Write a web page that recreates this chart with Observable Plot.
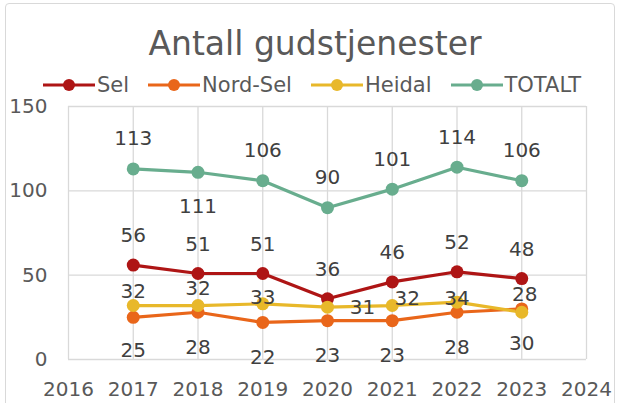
<!DOCTYPE html>
<html>
<head>
<meta charset="utf-8">
<script src="https://cdn.jsdelivr.net/npm/d3@7"></script>
<script src="https://cdn.jsdelivr.net/npm/@observablehq/plot@0.6"></script>
<style>
  html, body { margin: 0; padding: 0; background: #fff; }
  body { width: 619px; height: 403px; position: relative; overflow: hidden; font-family: "DejaVu Sans", sans-serif; color: #595959; }
  #frame { position: absolute; left: 5px; top: 3px; width: 610px; height: 420px; border: 1px solid #d9d9d9; border-radius: 4px; box-sizing: border-box; }
  #title { position: absolute; left: 0; width: 630px; top: 24px; text-align: center; font-size: 33px; line-height: 40px; color: #595959; }
  #legend { position: absolute; left: 43px; top: 73px; display: flex; align-items: center; font-size: 21px; line-height: 24px; color: #595959; }
  .item { display: flex; align-items: center; margin-right: 19px; }
  .item svg { margin-right: 2px; }
  #chart { position: absolute; left: 0; top: 95px; }
</style>
</head>
<body>
<div id="frame"></div>
<div id="title">Antall gudstjenester</div>
<div id="legend"></div>
<div id="chart"></div>
<script>
const years = [2017, 2018, 2019, 2020, 2021, 2022, 2023];
const seriesNames = ["Sel", "Nord-Sel", "Heidal", "TOTALT"];
const sel = [56, 51, 51, 36, 46, 52, 48];
const nordSel = [25, 28, 22, 23, 23, 28, 30];
const heidal = [32, 32, 33, 31, 32, 34, 28];
const totalt = [113, 111, 106, 90, 101, 114, 106];
const xTicks = [2016, 2017, 2018, 2019, 2020, 2021, 2022, 2023, 2024];
const yTicks = [0, 50, 100, 150];

const colors = {"Sel": "#ae1515", "Nord-Sel": "#e9661a", "Heidal": "#e8b82a", "TOTALT": "#68ad8e"};
const valuesBy = {"Sel": sel, "Nord-Sel": nordSel, "Heidal": heidal, "TOTALT": totalt};

// label nudges (pixels), per series with exceptions
function nudge(series, year) {
  if (series === "Sel") return [0, -29];
  if (series === "Nord-Sel") return [0, year === 2017 ? 33 : 35];
  if (series === "TOTALT") return year === 2018 ? [0, 34] : [0, -30];
  const h = {2017: [0, -14], 2018: [0, -17], 2019: [0, -6], 2020: [35, 0], 2021: [15, -7], 2022: [0, -4], 2023: [3, -18]};
  return h[year];
}

const rows = [];
for (const s of seriesNames) {
  valuesBy[s].forEach((v, i) => rows.push({series: s, year: years[i], value: v}));
}

// legend
const legend = document.getElementById("legend");
for (const s of seriesNames) {
  const item = document.createElement("div");
  item.className = "item";
  item.innerHTML = `<svg width="52" height="14"><line x1="0" x2="52" y1="7" y2="7" stroke="${colors[s]}" stroke-width="3"/><circle cx="26" cy="7" r="6" fill="${colors[s]}"/></svg><span>${s}</span>`;
  legend.appendChild(item);
}

// group labels by offset
const groups = d3.group(rows, d => nudge(d.series, d.year).join(","));
const labelMarks = [];
for (const [key, data] of groups) {
  const [dx, dy] = key.split(",").map(Number);
  labelMarks.push(Plot.text(data, {x: "year", y: "value", text: d => String(d.value), dx, dy, fill: "#404040", fontSize: 20}));
}

const chart = Plot.plot({
  width: 619,
  height: 308,
  marginLeft: 68,
  marginRight: 33,
  marginTop: 11,
  marginBottom: 44,
  style: {fontFamily: "DejaVu Sans, sans-serif", fontSize: "20px", color: "#595959", background: "transparent", overflow: "visible"},
  x: {domain: [2016, 2024], ticks: xTicks, tickFormat: d => String(d), tickSize: 0, tickPadding: 22, label: null},
  y: {domain: [0, 150], ticks: yTicks, tickSize: 0, tickPadding: 21, label: null},
  marks: [
    Plot.ruleX(xTicks, {stroke: "#d9d9d9", strokeWidth: 1.3}),
    Plot.ruleY(yTicks, {stroke: "#d9d9d9", strokeWidth: 1.3}),
    Plot.line(rows, {x: "year", y: "value", z: "series", stroke: d => colors[d.series], strokeWidth: 3.2}),
    Plot.dot(rows, {x: "year", y: "value", r: 6.5, fill: d => colors[d.series], stroke: "none"}),
    ...labelMarks
  ]
});
document.getElementById("chart").appendChild(chart);
</script>
</body>
</html>
